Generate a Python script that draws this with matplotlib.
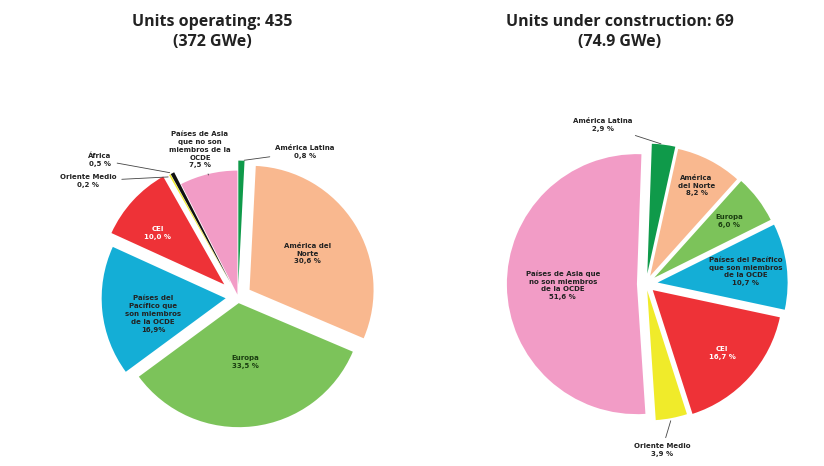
import numpy as np
import matplotlib.pyplot as plt

# ---- data ----
op_values = [0.8, 30.6, 33.5, 16.9, 10.0, 0.2, 0.5, 7.5]
op_labels = ["América Latina\n0,8 %", "América del\nNorte\n30,6 %", "Europa\n33,5 %",
             "Países del\nPacífico que\nson miembros\nde la OCDE\n16,9%", "CEI\n10,0 %",
             "Oriente Medio\n0,2 %", "África\n0,5 %",
             "Países de Asia\nque no son\nmiembros de la\nOCDE\n7,5 %"]
op_colors = ["#0f9a4a", "#f9b88f", "#7cc35a", "#14aed6", "#ee3237", "#f0eb2a", "#111111", "#f29cc6"]

uc_values = [2.9, 8.2, 6.0, 10.7, 16.7, 3.9, 51.6]
uc_labels = ["América Latina\n2,9 %", "América\ndel Norte\n8,2 %", "Europa\n6,0 %",
             "Países del Pacífico\nque son miembros\nde la OCDE\n10,7 %", "CEI\n16,7 %",
             "Oriente Medio\n3,9 %",
             "Países de Asia que\nno son miembros\nde la OCDE\n51,6 %"]
uc_colors = ["#0f9a4a", "#f9b88f", "#7cc35a", "#14aed6", "#ee3237", "#f0eb2a", "#f29cc6"]

W, H = 824, 466
fig = plt.figure(figsize=(W / 100, H / 100), dpi=100)
ax = fig.add_axes([0, 0, 1, 1])


def Y(y):
    return H - y


# ---- left pie ----
c1 = (238, Y(297))
r1 = 124
ex1 = [0.1, 0.11, 0.05, 0.1, 0.15, 0.13, 0.13, 0.02]
w1, _ = ax.pie(op_values, colors=op_colors, startangle=90, counterclock=False,
               explode=[e * r1 for e in ex1],
               center=c1, radius=r1, frame=True,
               wedgeprops=dict(linewidth=0))

# ---- right pie ----
c2 = (646, Y(284))
r2 = 130
ex2 = [0.08, 0.07, 0.08, 0.09, 0.07, 0.05, 0.07]
w2, _ = ax.pie(uc_values, colors=uc_colors, startangle=88, counterclock=False,
               explode=[e * r2 for e in ex2],
               center=c2, radius=r2, frame=True,
               wedgeprops=dict(linewidth=0))

ax.set_xlim(0, W)
ax.set_ylim(0, H)
ax.set_aspect('equal')
ax.axis('off')

fs = 5.0


def inside(w, r, frac, text, color='#222222', dang=0.0):
    a = np.deg2rad((w.theta1 + w.theta2) / 2 + dang)
    x = w.center[0] + r * frac * np.cos(a)
    y = w.center[1] + r * frac * np.sin(a)
    ax.text(x, y, text, ha='center', va='center', fontsize=fs, fontweight='bold',
            color=color, linespacing=1.35)


def point_on(w, r, frac):
    a = np.deg2rad((w.theta1 + w.theta2) / 2)
    return (w.center[0] + r * frac * np.cos(a), w.center[1] + r * frac * np.sin(a))


# left labels
inside(w1[1], r1, 0.55, op_labels[1])
inside(w1[2], r1, 0.48, op_labels[2], color='#1a3d10')
inside(w1[3], r1, 0.6, op_labels[3], dang=6)
inside(w1[4], r1, 0.68, op_labels[4], color='white', dang=5)

lab_kw = dict(fontsize=fs, fontweight='bold', color='#222222', linespacing=1.35)
line_kw = dict(arrowstyle='-', color='#444444', lw=0.6)
ax.annotate(op_labels[0], xy=point_on(w1[0], r1, 1.0), xytext=(305, Y(152)),
            ha='center', va='center', arrowprops=line_kw, **lab_kw)
ax.annotate(op_labels[5], xy=point_on(w1[5], r1, 0.98), xytext=(88, Y(181)),
            ha='center', va='center', arrowprops=line_kw, **lab_kw)
ax.annotate(op_labels[6], xy=point_on(w1[6], r1, 1.0), xytext=(100, Y(160)),
            ha='center', va='center', arrowprops=line_kw, **lab_kw)
ax.annotate(op_labels[7], xy=point_on(w1[7], r1, 0.97), xytext=(200, Y(150)),
            ha='center', va='center', arrowprops=line_kw, **lab_kw)

# right labels
inside(w2[1], r2, 0.78, uc_labels[1])
inside(w2[2], r2, 0.72, uc_labels[2], color='#1a3d10')
inside(w2[3], r2, 0.68, uc_labels[3])
inside(w2[4], r2, 0.72, uc_labels[4], color='white')
inside(w2[6], r2, 0.57, uc_labels[6])
ax.annotate(uc_labels[0], xy=point_on(w2[0], r2, 1.0), xytext=(603, Y(125)),
            ha='center', va='center', arrowprops=line_kw, **lab_kw)
ax.annotate(uc_labels[5], xy=point_on(w2[5], r2, 1.0), xytext=(662, Y(450)),
            ha='center', va='center', arrowprops=line_kw, **lab_kw)

# titles
tkw = dict(ha='center', va='center', fontsize=11.5, fontweight='bold', color='#222222',
           family='Open Sans', linespacing=1.35)
ax.text(212, Y(32), "Units operating: 435\n(372 GWe)", **tkw)
ax.text(620, Y(32), "Units under construction: 69\n(74.9 GWe)", **tkw)

fig.savefig("out.png", dpi=100)
